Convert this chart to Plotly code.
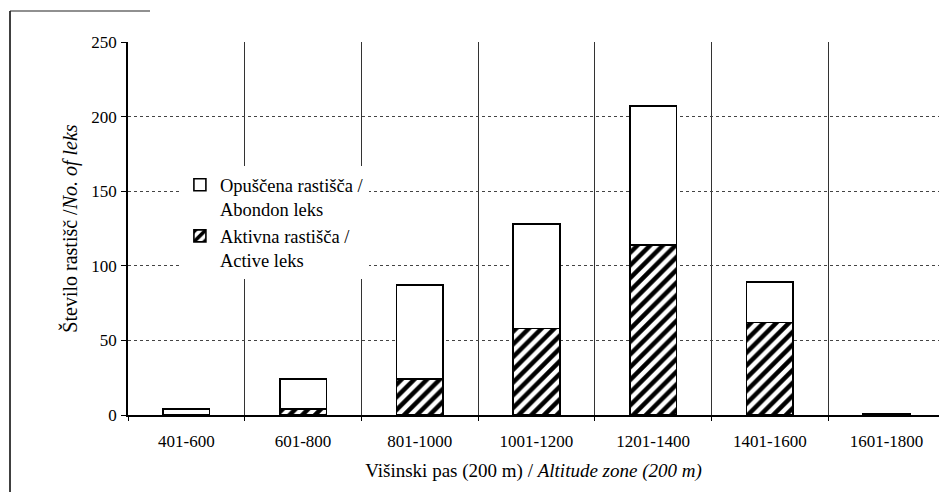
import plotly.graph_objects as go

categories = ["401-600", "601-800", "801-1000", "1001-1200", "1201-1400", "1401-1600", "1601-1800"]
active = [0, 4, 24, 58, 114, 62, 0]
abandoned = [4, 20, 63, 70, 93, 27, 1]
y_ticks = [0, 50, 100, 150, 200, 250]

FONT = "Liberation Serif, Times New Roman, serif"

fig = go.Figure()
fig.add_trace(go.Bar(
    x=categories, y=active,
    name="Aktivna rastišča /<br>Active leks",
    marker=dict(color="white", line=dict(color="black", width=1.6),
                pattern=dict(shape="/", fgcolor="black", bgcolor="white", size=9, solidity=0.5,
                             fgopacity=1)),
    width=0.4,
))
fig.add_trace(go.Bar(
    x=categories, y=abandoned,
    name="Opuščena rastišča /<br>Abondon leks",
    marker=dict(color="white", line=dict(color="black", width=1.6)),
    width=0.4,
))

fig.update_layout(
    width=939, height=492,
    barmode="stack",
    paper_bgcolor="white", plot_bgcolor="white",
    margin=dict(l=128, r=0, t=42, b=77, autoexpand=False),
    font=dict(family=FONT, size=16, color="black"),
    legend=dict(
        x=0.064, y=0.667, xanchor="left", yanchor="top",
        traceorder="reversed", valign="top",
        bgcolor="white", borderwidth=0,
        font=dict(family=FONT, size=18.5, color="black"),
        itemwidth=30, tracegroupgap=4,
    ),
    showlegend=True,
)

fig.update_xaxes(
    type="category",
    range=[-0.5, 6.45],
    tickson="boundaries",
    ticks="outside", ticklen=4, tickcolor="black",
    showgrid=True, gridcolor="#333", gridwidth=1,
    showline=True, linecolor="black", linewidth=1.5,
    automargin=False,
    ticklabelstandoff=10,
    tickfont=dict(family=FONT, size=17),
    title=dict(text="Višinski pas (200 m) / <i>Altitude zone (200 m)</i>",
               font=dict(family=FONT, size=19), standoff=14),
)
fig.update_yaxes(
    range=[0, 250],
    tickvals=y_ticks,
    ticks="outside", ticklen=5, tickcolor="black",
    showgrid=True, gridcolor="#444", gridwidth=1, griddash="dot",
    showline=True, linecolor="black", linewidth=1.5,
    zeroline=False,
    automargin=False,
    ticklabelstandoff=1,
    tickfont=dict(family=FONT, size=17),
    title=dict(text="Število rastišč /<i>No. of leks</i>",
               font=dict(family=FONT, size=20), standoff=8),
)

# outer chart frame (left and top edges visible)
fx = (10 - 128) / 811
fy_top = (415 - 11) / 373
fig.add_shape(type="line", xref="paper", yref="paper",
              x0=fx, x1=fx, y0=fy_top, y1=-(492 - 415) / 373 - 0.01,
              line=dict(color="black", width=1.5))
fig.add_shape(type="line", xref="paper", yref="paper",
              x0=fx, x1=(150 - 128) / 811, y0=fy_top, y1=fy_top,
              line=dict(color="#222", width=1.2))

fig.write_html("out.html", post_script="document.body.style.margin='0';",
               config={"displayModeBar": False})
